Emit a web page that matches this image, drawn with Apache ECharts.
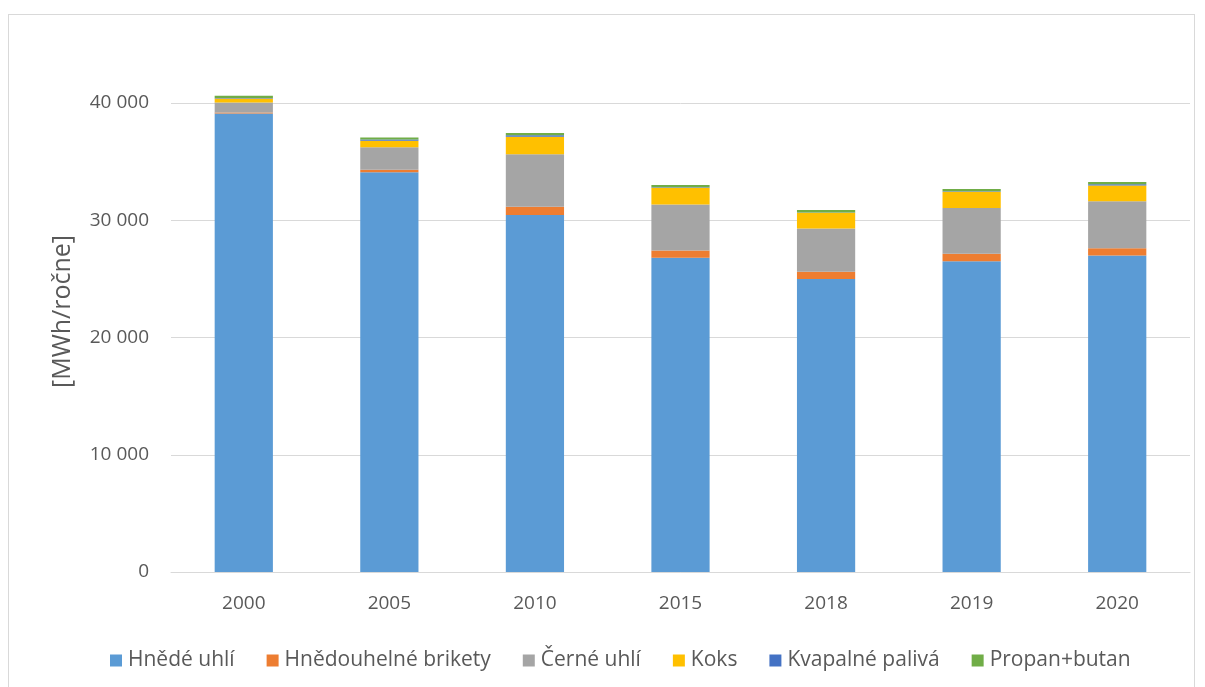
<!DOCTYPE html>
<html><head><meta charset="utf-8">
<script src="https://cdn.jsdelivr.net/npm/echarts@6/dist/echarts.min.js"></script>
<style>
html,body{margin:0;padding:0;background:#fff;}
#frame{position:absolute;left:8px;top:14px;width:1187px;height:680px;border:1px solid #d9d9d9;box-sizing:border-box;}
#c{position:absolute;left:0;top:0;width:1205px;height:687px;}
</style></head>
<body><div id="frame"></div><div id="c"></div>
<script>
const categories = ['2000','2005','2010','2015','2018','2019','2020'];
const hnedeUhli = [39100, 34100, 30450, 26800, 25000, 26500, 27000];
const brikety = [100, 200, 710, 630, 600, 650, 620];
const cerneUhli = [850, 1930, 4470, 3920, 3700, 3900, 4010];
const koks = [340, 560, 1500, 1420, 1330, 1390, 1340];
const kvapalne = [30, 90, 120, 50, 40, 40, 90];
const propan = [190, 170, 200, 190, 210, 190, 200];
const seriesNames = ['Hnědé uhlí','Hnědouhelné brikety','Černé uhlí','Koks','Kvapalné palivá','Propan+butan'];
const seriesData = [hnedeUhli, brikety, cerneUhli, koks, kvapalne, propan];
const colors = ['#5B9BD5','#ED7D31','#A5A5A5','#FFC000','#4472C4','#70AD47'];

const fmt = v => String(v).replace(/\B(?=(\d{3})+(?!\d))/g, ' ');
const chart = echarts.init(document.getElementById('c'), null, {renderer:'canvas'});
chart.setOption({
  animation:false,
  color: colors,
  textStyle:{fontFamily:'"Open Sans", sans-serif'},
  grid:{left:171, right:15, top:103, bottom:115, containLabel:false},
  legend:{
    top:645, left:105, itemWidth:12, itemHeight:12, itemGap:32,
    icon:'rect',
    textStyle:{color:'#595959', fontSize:21, fontFamily:'"Open Sans", sans-serif', padding:[0,0,0,1]},
    data: seriesNames
  },
  graphic:[{
    type:'text', left:50, top:235, rotation:Math.PI/2,
    style:{text:'[MWh/ročne]', fill:'#595959', font:'25px "Open Sans", sans-serif'}
  }],
  xAxis:{
    type:'category', data:categories,
    axisLine:{lineStyle:{color:'#d9d9d9', width:1}},
    axisTick:{show:false},
    axisLabel:{color:'#595959', fontSize:19, margin:22}
  },
  yAxis:{
    type:'value', min:0, max:40000, interval:10000,
    axisLine:{show:false}, axisTick:{show:false},
    axisLabel:{color:'#595959', fontSize:19, margin:22, formatter: v => fmt(v)},
    splitLine:{lineStyle:{color:'#d9d9d9', width:1}}
  },
  series: seriesNames.map((n,i)=>({
    name:n, type:'bar', stack:'total', data:seriesData[i],
    barWidth:'40%', clip:false
  }))
});
</script></body></html>
